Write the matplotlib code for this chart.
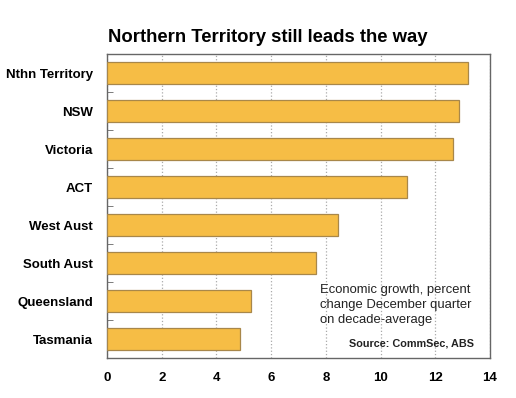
import matplotlib.pyplot as plt
import numpy as np

plt.rcParams['font.family'] = ['Liberation Sans', 'DejaVu Sans']

# 数据
regions = ['Nthn Territory', 'NSW', 'Victoria', 'ACT', 'West Aust',
           'South Aust', 'Queensland', 'Tasmania']
growth = [13.2, 12.85, 12.65, 10.95, 8.45, 7.65, 5.25, 4.85]
xticks = [0, 2, 4, 6, 8, 10, 12, 14]

fig = plt.figure(figsize=(5.16, 3.98), dpi=100)
ax = fig.add_axes([0.2074, 0.1005, 0.7422, 0.7638])

y = np.arange(len(regions))
ax.barh(y, growth, height=0.58, color='#F6BD45', edgecolor='#A8874A', linewidth=0.9, zorder=3)

ax.set_xlim(0, 14)
ax.set_ylim(7.5, -0.5)
ax.set_xticks(xticks)
ax.set_xticklabels([str(v) for v in xticks], fontweight='bold', fontsize=9.5)
ax.set_yticks(y)
ax.set_yticklabels(regions, fontweight='bold', fontsize=9.5)
ax.tick_params(axis='y', length=0, pad=10)
ax.tick_params(axis='x', length=0, pad=10)
ax.set_yticks(np.arange(0.5, 7, 1), minor=True)
ax.tick_params(axis='y', which='minor', direction='in', length=4, color='#666666')

ax.grid(axis='x', linestyle=':', color='#aaaaaa', linewidth=0.9, zorder=0)
for s in ax.spines.values():
    s.set_color('#666666')
    s.set_linewidth(1.0)

ax.text(7.8, 5.55, 'Economic growth, percent\nchange December quarter\non decade-average',
        fontsize=9.4, va='top', ha='left', linespacing=1.32, color='#222222', zorder=4)
ax.text(13.4, 7.12, 'Source: CommSec, ABS', fontsize=7.8, fontweight='bold',
        ha='right', va='center', color='#222222', zorder=4)

fig.suptitle('Northern Territory still leads the way', fontsize=13.3, fontweight='bold',
             x=0.519, y=0.907, va='center')

fig.savefig('out.png', dpi=100, facecolor='white')
